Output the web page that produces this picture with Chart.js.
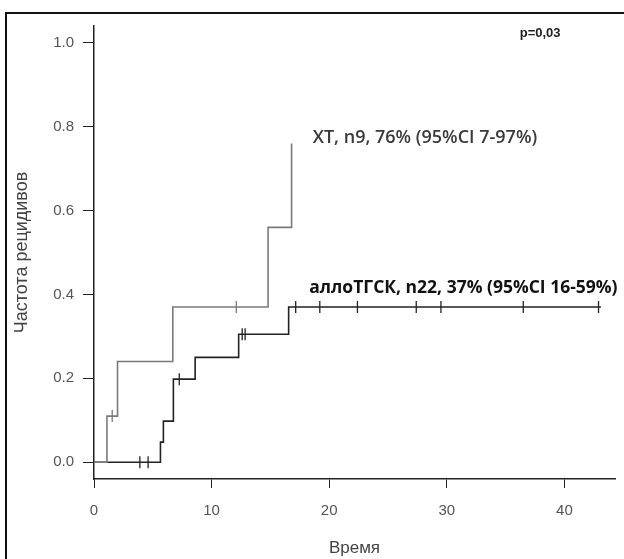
<!DOCTYPE html>
<html>
<head>
<meta charset="utf-8">
<script src="https://cdn.jsdelivr.net/npm/chart.js@4.4.1/dist/chart.umd.min.js"></script>
<style>
  html, body { margin: 0; padding: 0; background: #fff; }
  #wrap { width: 624px; height: 559px; position: relative; }
</style>
</head>
<body>
<div id="wrap"><canvas id="myChart"></canvas></div>
<script>
// step data (time, cumulative incidence)
var xtTimes = [0, 1.1, 2.0, 6.7, 14.8, 16.8];
var xtValues = [0, 0.11, 0.24, 0.37, 0.56, 0.76];
var xtCensored = [1.55, 12.1];

var alloTimes = [0, 5.65, 5.9, 6.75, 8.6, 12.3, 16.55, 43.1];
var alloValues = [0, 0.048, 0.098, 0.198, 0.25, 0.305, 0.37, 0.37];
var alloCensored = [3.9, 4.6, 7.25, 12.6, 12.85, 17.15, 19.2, 22.4, 27.4, 29.5, 36.5, 42.9];

var xTicks = [0, 10, 20, 30, 40];
var yTicks = [0, 0.2, 0.4, 0.6, 0.8, 1.0];

var xtLabel = 'XT, n9, 76% (95%CI 7-97%)';
var alloLabel = 'аллоТГСК, n22, 37% (95%CI 16-59%)';
var pLabel = 'p=0,03';

function toPoints(times, values) {
    return times.map(function (t, i) { return { x: t, y: values[i] }; });
}

// censor marks sit on the step curve
function stepValue(times, values, t) {
    var v = values[0];
    for (var i = 0; i < times.length; i++) {
        if (times[i] <= t) v = values[i];
    }
    return v;
}
function censorPoints(cens, times, values) {
    return cens.map(function (t) { return { x: t, y: stepValue(times, values, t) }; });
}

// frame + text labels
var extras = {
    id: 'extras',
    beforeDraw: function (chart) {
        var c = chart.ctx;
        c.save();
        c.fillStyle = '#fff';
        c.fillRect(0, 0, chart.width, chart.height);
        c.strokeStyle = '#111';
        c.lineWidth = 2;
        c.beginPath();
        c.moveTo(chart.width, 13);
        c.lineTo(6, 13);
        c.lineTo(6, chart.height);
        c.stroke();
        c.restore();
    },
    afterDraw: function (chart) {
        var c = chart.ctx;
        var xs = chart.scales.x, ys = chart.scales.y;
        c.save();
        c.textBaseline = 'middle';
        c.textAlign = 'left';
        c.fillStyle = '#3a3a3a';
        c.font = '600 18px "Open Sans"';
        c.fillText(xtLabel, xs.getPixelForValue(18.6), ys.getPixelForValue(0.774));
        c.fillStyle = '#111';
        c.font = 'bold 17.5px "Open Sans"';
        c.fillText(alloLabel, xs.getPixelForValue(18.3), ys.getPixelForValue(0.415));
        c.fillStyle = '#222';
        c.font = 'bold 13px "Liberation Sans"';
        c.fillText(pLabel, xs.getPixelForValue(36.2), ys.getPixelForValue(1.023));
        c.restore();
    }
};

var ctx = document.getElementById('myChart').getContext('2d');
var myChart = new Chart(ctx, {
    type: 'line',
    data: {
        datasets: [
            {
                label: 'XT',
                data: toPoints(xtTimes, xtValues),
                stepped: 'before',
                borderColor: '#7a7a7a',
                borderWidth: 1.6,
                pointRadius: 0,
                fill: false
            },
            {
                label: 'аллоТГСК',
                data: toPoints(alloTimes, alloValues),
                stepped: 'before',
                borderColor: '#222',
                borderWidth: 1.6,
                pointRadius: 0,
                fill: false
            },
            {
                label: 'XT censored',
                type: 'scatter',
                data: censorPoints(xtCensored, xtTimes, xtValues),
                pointStyle: 'line',
                rotation: 90,
                radius: 6,
                borderColor: '#7a7a7a',
                borderWidth: 1.3
            },
            {
                label: 'аллоТГСК censored',
                type: 'scatter',
                data: censorPoints(alloCensored, alloTimes, alloValues),
                pointStyle: 'line',
                rotation: 90,
                radius: 6,
                borderColor: '#222',
                borderWidth: 1.3
            }
        ]
    },
    options: {
        responsive: true,
        maintainAspectRatio: false,
        animation: false,
        layout: { padding: { left: 0, right: 9, top: 26, bottom: 0 } },
        plugins: {
            legend: { display: false },
            tooltip: { enabled: false }
        },
        scales: {
            x: {
                type: 'linear',
                min: 0,
                max: 44.3,
                afterFit: function (s) { s.height = 80; },
                afterBuildTicks: function (s) { s.ticks = xTicks.map(function (v) { return { value: v }; }); },
                grid: { drawOnChartArea: false, drawTicks: true, tickLength: 9, color: '#222' },
                border: { display: true, color: '#222', width: 1.5 },
                ticks: { color: '#555', font: { family: 'Liberation Sans', size: 15 }, padding: 14 },
                title: {
                    display: true,
                    text: 'Время',
                    color: '#444',
                    font: { family: 'Liberation Sans', size: 17 },
                    padding: { top: 0, bottom: 0 }
                }
            },
            y: {
                min: -0.04,
                max: 1.04,
                afterFit: function (s) { s.width = 94; },
                afterBuildTicks: function (s) { s.ticks = yTicks.map(function (v) { return { value: v }; }); },
                grid: { drawOnChartArea: false, drawTicks: true, tickLength: 11, color: '#222' },
                border: { display: true, color: '#222', width: 1.5 },
                ticks: {
                    color: '#555',
                    font: { family: 'Liberation Sans', size: 15 },
                    padding: 9,
                    callback: function (v) { return v.toFixed(1); }
                },
                title: {
                    display: true,
                    text: 'Частота рецидивов',
                    color: '#444',
                    font: { family: 'Liberation Sans', size: 18 },
                    padding: { top: 11, bottom: 0 }
                }
            }
        }
    },
    plugins: [extras]
});
</script>
</body>
</html>
